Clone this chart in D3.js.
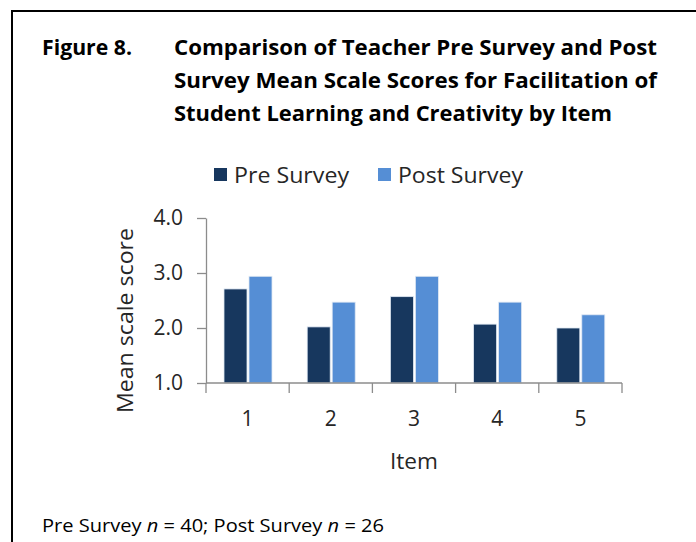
<!DOCTYPE html>
<html>
<head>
<meta charset="utf-8">
<script src="https://cdn.jsdelivr.net/npm/d3@7"></script>
<style>
  html, body { margin: 0; padding: 0; background: #fff; }
  svg { display: block; }
  text { font-family: "Open Sans", Lato, sans-serif; }
</style>
</head>
<body>
<svg id="chart" width="696" height="542"></svg>
<script>
// Survey items and mean scale scores
const items = ["1", "2", "3", "4", "5"];
const seriesNames = ["Pre Survey", "Post Survey"];
const preScores = [2.71, 2.02, 2.57, 2.07, 2.00];
const postScores = [2.94, 2.47, 2.94, 2.47, 2.24];
const yTicks = [1.0, 2.0, 3.0, 4.0];
const titleLines = [
  "Comparison of Teacher Pre Survey and Post",
  "Survey Mean Scale Scores for Facilitation of",
  "Student Learning and Creativity by Item"
];

const colors = { "Pre Survey": "#17375E", "Post Survey": "#558ED5" };
const textColor = "#262626";
const axisColor = "#8c8c8c";

const svg = d3.select("#chart");

// Fit a text element to a set width (narrow Calibri-like setting)
function fit(sel, width) {
  sel.attr("textLength", width).attr("lengthAdjust", "spacingAndGlyphs");
  return sel;
}

// Document frame (open to the right and bottom)
svg.append("path")
  .attr("d", "M12,542 V11 H696")
  .attr("fill", "none")
  .attr("stroke", "#000")
  .attr("stroke-width", 2);

// Figure caption
fit(svg.append("text")
  .attr("x", 42).attr("y", 55)
  .attr("font-size", 22).attr("font-weight", 700).attr("fill", "#000")
  .text("Figure 8."), 90);
const titleWidths = [483, 483, 438];
svg.append("g").selectAll("text")
  .data(titleLines)
  .join("text")
  .attr("x", 174)
  .attr("y", (d, i) => 55 + i * 33)
  .attr("font-size", 22).attr("font-weight", 700).attr("fill", "#000")
  .attr("textLength", (d, i) => titleWidths[i])
  .attr("lengthAdjust", "spacingAndGlyphs")
  .text(d => d);

// Plot area
const plot = { left: 206, right: 622, top: 218, bottom: 383 };

const x = d3.scaleBand().domain(items).range([plot.left, plot.right]);
const xInner = d3.scaleBand().domain(seriesNames).range([18, 66]).paddingInner(0.08);
const y = d3.scaleLinear().domain([1, 4]).range([plot.bottom, plot.top]);

const rows = items.map((item, i) => ({
  item,
  values: [
    { series: "Pre Survey", value: preScores[i] },
    { series: "Post Survey", value: postScores[i] }
  ]
}));

// Bars
svg.append("g")
  .selectAll("g")
  .data(rows)
  .join("g")
  .attr("transform", d => `translate(${x(d.item)},0)`)
  .selectAll("rect")
  .data(d => d.values)
  .join("rect")
  .attr("x", d => xInner(d.series))
  .attr("width", xInner.bandwidth())
  .attr("y", d => y(d.value))
  .attr("height", d => y(1) - y(d.value))
  .attr("fill", d => colors[d.series])
  .attr("stroke", "#dfe8f3")
  .attr("stroke-width", 0.8);

// Y axis
const yAxis = svg.append("g")
  .attr("transform", `translate(${plot.left},0)`)
  .call(d3.axisLeft(y).tickValues(yTicks).tickFormat(d3.format(".1f")).tickSize(9).tickSizeOuter(0).tickPadding(14));
yAxis.select(".domain").attr("stroke", axisColor).attr("stroke-width", 1.3);
yAxis.selectAll(".tick line").attr("stroke", axisColor).attr("stroke-width", 1.3);
yAxis.selectAll(".tick text")
  .attr("font-size", 21).attr("fill", textColor)
  .attr("font-family", "'Open Sans', sans-serif");

// X axis: ticks at band boundaries, labels at band centres
const xAxis = svg.append("g").attr("transform", `translate(0,${plot.bottom})`);
xAxis.append("line")
  .attr("x1", plot.left).attr("x2", plot.right)
  .attr("stroke", axisColor).attr("stroke-width", 1.3);
const boundaries = items.map(d => x(d)).concat([x(items[items.length - 1]) + x.bandwidth()]);
xAxis.selectAll("line.tick")
  .data(boundaries)
  .join("line")
  .attr("class", "tick")
  .attr("x1", d => d).attr("x2", d => d)
  .attr("y1", 0).attr("y2", 10)
  .attr("stroke", axisColor).attr("stroke-width", 1.3);
xAxis.selectAll("text")
  .data(items)
  .join("text")
  .attr("x", d => x(d) + x.bandwidth() / 2)
  .attr("y", 43)
  .attr("text-anchor", "middle")
  .attr("font-size", 21).attr("fill", textColor)
  .text(d => d);

// Axis titles
fit(svg.append("text")
  .attr("x", 390).attr("y", 469)
  .attr("font-size", 21).attr("fill", textColor)
  .text("Item"), 48);
fit(svg.append("text")
  .attr("transform", "translate(133,413) rotate(-90)")
  .attr("font-size", 21).attr("fill", textColor)
  .text("Mean scale score"), 185);

// Legend
const legend = svg.append("g").attr("transform", "translate(214,168)");
const legendX = [0, 164];
const legendWidths = [115, 125];
const legendItems = legend.selectAll("g")
  .data(seriesNames)
  .join("g")
  .attr("transform", (d, i) => `translate(${legendX[i]},0)`);
legendItems.append("rect")
  .attr("width", 13).attr("height", 13)
  .attr("fill", d => colors[d]);
legendItems.append("text")
  .attr("x", 20).attr("y", 15)
  .attr("font-size", 21).attr("fill", textColor)
  .attr("textLength", (d, i) => legendWidths[i])
  .attr("lengthAdjust", "spacingAndGlyphs")
  .text(d => d);

// Sample sizes note
const note = svg.append("text")
  .attr("x", 42).attr("y", 532)
  .attr("font-size", 18).attr("fill", "#000");
note.append("tspan").text("Pre Survey ");
note.append("tspan").attr("font-style", "italic").text("n");
note.append("tspan").text(" = 40; Post Survey ");
note.append("tspan").attr("font-style", "italic").text("n");
note.append("tspan").text(" = 26");
fit(note, 342);
</script>
</body>
</html>
